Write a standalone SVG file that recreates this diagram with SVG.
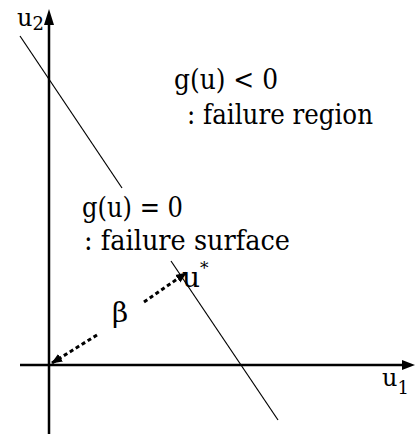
<svg xmlns="http://www.w3.org/2000/svg" width="415" height="434" viewBox="0 0 415 434">
<style>
.ax{stroke:#000;stroke-width:2.5;fill:none}
.fs{stroke:#000;stroke-width:1.2;fill:none}
.dot{stroke:#000;stroke-width:3;stroke-dasharray:4 3;fill:none}
.t{font-family:"DejaVu Serif",serif;fill:#000}
</style>
<defs>
<marker id="ah" markerWidth="11" markerHeight="11" refX="10" refY="5.5" orient="auto" markerUnits="userSpaceOnUse">
<path d="M0,1 L11,5.5 L0,10 Z" fill="#000"/>
</marker>
</defs>
<rect width="415" height="434" fill="#fff"/>
<g id="axes">
<line class="ax" x1="49" y1="434" x2="49" y2="22"/>
<polygon points="49,9 44,25 54,25" fill="#000"/>
<line class="ax" x1="20" y1="365" x2="404" y2="365"/>
<polygon points="415,365 402,360 402,370" fill="#000"/>
</g>
<g id="failure-surface">
<line class="fs" x1="20" y1="36" x2="122" y2="188"/>
<line class="fs" x1="171" y1="261" x2="278" y2="420"/>
</g>
<g id="connectors">
<line class="dot" x1="97" y1="335" x2="52" y2="363" marker-end="url(#ah)"/>
<line class="dot" x1="144" y1="302" x2="186" y2="273" marker-end="url(#ah)"/>
</g>
<g id="labels">
<text class="t" x="17" y="26" font-size="24">u<tspan font-size="18" dy="4">2</tspan></text>
<text class="t" x="382" y="386" font-size="24">u<tspan font-size="18" dy="8">1</tspan></text>
<text class="t" x="174" y="89" font-size="28" textLength="104" lengthAdjust="spacingAndGlyphs">g(u) &lt; 0</text>
<text class="t" x="187" y="124" font-size="28" textLength="186" lengthAdjust="spacingAndGlyphs">: failure region</text>
<text class="t" x="82" y="217" font-size="28" textLength="101" lengthAdjust="spacingAndGlyphs">g(u) = 0</text>
<text class="t" x="84" y="250" font-size="28" textLength="206" lengthAdjust="spacingAndGlyphs">: failure surface</text>
<text class="t" x="182" y="287" font-size="28">u<tspan font-size="17" dy="-13">*</tspan></text>
<text class="t" x="112" y="322" font-size="28">β</text>
</g>
</svg>
